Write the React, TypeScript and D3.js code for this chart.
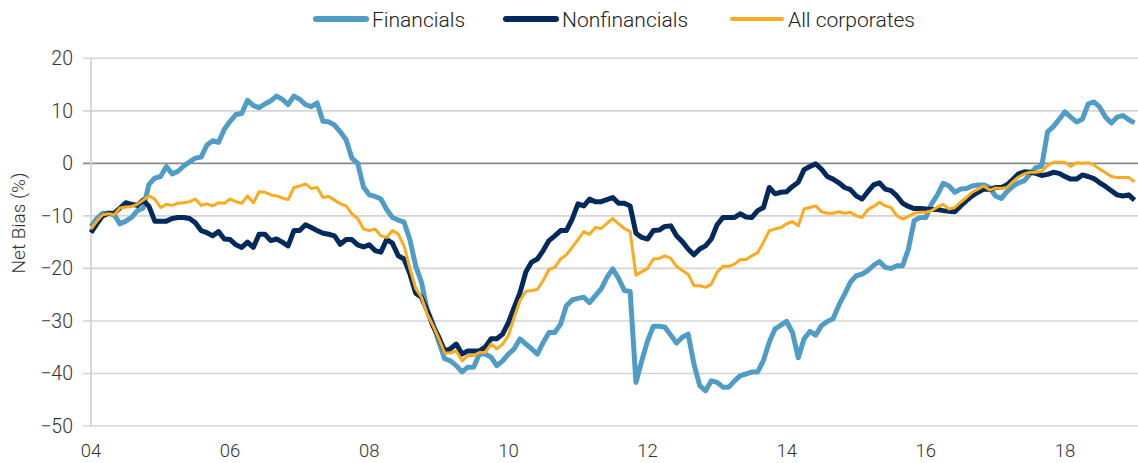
import React, { useEffect, useRef } from 'react';
import * as d3 from 'd3';

// monthly readings, Jan 2004 .. Jan 2019
const financials = [
  -12, -10.5, -9.5, -9.5, -9.8, -11.5, -11, -10.3, -9, -8.5, -4, -2.8, -2.5, -0.6, -2, -1.5, -0.5, 0.3, 1, 1.2,
  3.5, 4.3, 4, 6.5, 8, 9.3, 9.5, 12, 11, 10.6, 11.3, 11.9, 12.8, 12.2, 11.2, 12.8, 12.2, 11.2, 10.8, 11.5,
  8, 7.9, 7.3, 6, 4.5, 1, 0, -4.5, -6, -6.3, -6.8, -8.8, -10.3, -10.8, -11.2, -14.5, -19.5, -22.6, -28, -30.5,
  -34, -37.2, -37.6, -38.5, -39.7, -38.8, -38.8, -36.3, -36.3, -36.9, -38.5, -37.6, -36.3, -35.3, -33.4, -34.4, -35.3, -36.3, -34.1, -32.2,
  -32.2, -30.6, -27.1, -26, -25.7, -25.5, -26.5, -25.2, -23.9, -21.7, -20.1, -21.9, -24.2, -24.4, -41.7, -37.6, -33.8, -31, -31, -31.2,
  -32.7, -34.2, -33.1, -32.5, -38.2, -42.3, -43.3, -41.4, -41.7, -42.6, -42.6, -41.4, -40.4, -40.1, -39.7, -39.7, -37.5, -34, -31.5, -30.8,
  -30.1, -32.2, -37, -33.4, -32, -32.7, -30.9, -30.1, -29.6, -27, -24.9, -22.6, -21.4, -21.1, -20.4, -19.4, -18.7, -19.8, -20, -19.5,
  -19.5, -16.3, -10.9, -10.3, -10.3, -7.7, -6, -3.8, -4.3, -5.5, -4.9, -4.8, -4.3, -4.1, -4.1, -4.6, -6.2, -6.7, -5.4, -4.4,
  -3.7, -3.3, -2, -0.8, -0.5, 6, 7, 8.4, 9.8, 8.8, 7.9, 8.4, 11.3, 11.7, 10.7, 8.8, 7.7, 8.8, 9.1, 8.3,
  7.7,
];

const nonfinancials = [
  -13.2, -11.5, -10, -9.5, -9.5, -8.5, -7.5, -7.8, -8, -7, -8.2, -11, -11, -11, -10.5, -10.3, -10.3, -10.5, -11.3, -12.8,
  -13.2, -13.8, -13, -14.4, -14.5, -15.5, -16, -15, -16, -13.5, -13.5, -14.7, -14.4, -15, -15.7, -12.8, -12.8, -11.7, -12.2, -12.8,
  -13.3, -13.5, -13.8, -15.4, -14.5, -14.5, -15.5, -15.9, -15.5, -16.6, -16.9, -14.5, -15.2, -17.6, -18.2, -21, -24.7, -25.5, -28, -31,
  -33.1, -35.7, -35.3, -34.4, -36.3, -35.7, -35.7, -35.7, -35, -33.4, -33.4, -32.5, -30.3, -27.4, -24.6, -20.7, -18.8, -18.2, -16.6, -14.7,
  -13.8, -12.8, -12.8, -10.6, -7.7, -8.1, -6.8, -7.3, -7.3, -6.9, -6.5, -7.6, -7.6, -8.1, -13.3, -14.1, -14.4, -12.8, -12.7, -12,
  -11.9, -13.8, -14.9, -16.3, -17.4, -16.3, -15.7, -14.4, -11.7, -10.3, -10.3, -10.3, -9.6, -10.2, -10.3, -9, -8.4, -4.6, -5.8, -5.5,
  -5.4, -4.4, -3.6, -1.2, -0.6, -0.1, -1.1, -2.5, -3, -3.7, -4.6, -5, -6.2, -6.8, -5.4, -4.1, -3.7, -4.9, -5.2, -6.2,
  -7.6, -8.2, -8.6, -8.6, -8.7, -8.8, -8.8, -9, -9.1, -9.2, -8.1, -7.1, -6.2, -5.5, -4.9, -5, -4.6, -4.6, -4.1, -3.1,
  -2, -1.6, -1.7, -1.9, -2.3, -2.1, -1.7, -1.9, -2.5, -3, -3, -2.2, -2.5, -2.9, -3.7, -4.4, -5.2, -6, -6.2, -6,
  -7,
];

const allCorporates = [
  -12.5, -11, -9.8, -9.6, -9.8, -8.5, -8.3, -8.2, -7.8, -7, -6.2, -6.8, -8.4, -7.8, -8, -7.6, -7.5, -7.3, -6.8, -8,
  -7.7, -8.1, -7.5, -7.6, -6.8, -7.3, -7.6, -6.2, -7.5, -5.4, -5.5, -6, -6.2, -6.6, -6.9, -4.6, -4.3, -3.9, -4.8, -4.6,
  -6.5, -6.3, -7, -7.7, -8.1, -9.6, -10.5, -12.5, -12.8, -12.5, -13.8, -14.1, -12.8, -13.5, -15.7, -20, -23.8, -25.5, -28.7, -30.9,
  -33.4, -36.1, -36.1, -35.7, -37.6, -36.6, -36.6, -36, -36, -34.4, -35.3, -34.4, -32.8, -29.3, -26.1, -24.4, -24.2, -24, -22.3, -20.2,
  -19.8, -18.2, -17.4, -16, -14.5, -13, -13.5, -12.2, -12.4, -11.4, -10.5, -11.5, -12.4, -13, -21.3, -20.6, -20, -18.2, -18.1, -17.6,
  -18.1, -19.6, -20.4, -21.1, -23.3, -23.3, -23.6, -23, -20.7, -19.6, -19.6, -19.2, -18.3, -18.3, -17.6, -17, -15, -12.8, -12.5, -12.2,
  -11.5, -11.1, -11.9, -8.7, -8.4, -8.1, -9.2, -9.5, -9.5, -9.2, -9.5, -9.3, -10, -10.3, -8.8, -8.2, -7.4, -8.1, -8.4, -10,
  -10.6, -10.1, -9.5, -9.3, -9.3, -9, -8.3, -7.8, -8.7, -8.4, -7.4, -6.5, -5.5, -4.9, -4.3, -5.1, -4.7, -4.8, -4.6, -3.5,
  -2.6, -2, -1.7, -1.7, -1.5, -0.4, 0.2, 0.2, 0.2, -0.6, 0.1, 0, 0.1, -0.3, -1.1, -1.8, -2.5, -2.7, -2.7, -2.7,
  -3.5,
];

const yearLabels = ['04', '06', '08', '10', '12', '14', '16', '18'];
const yTicks = [20, 10, 0, -10, -20, -30, -40, -50];

const seriesNames = ['Financials', 'Nonfinancials', 'All corporates'];
const seriesColors = ['#4f9cc6', '#002a5c', '#fcaa1e'];
const seriesWidths = [5, 5, 3];

const App = () => {
  const ref = useRef<SVGSVGElement | null>(null);

  useEffect(() => {
    const width = 1138;
    const height = 463;
    const left = 91;
    const right = 1138;
    const top = 58.3;
    const bottom = 426;
    const font = 'Roboto, "Open Sans", sans-serif';

    const svg = d3.select(ref.current);
    svg.selectAll('*').remove();
    svg.attr('width', width).attr('height', height);

    const x = d3.scaleLinear().domain([0, 180.6]).range([left, right]);
    const y = d3.scaleLinear().domain([-50, 20]).range([bottom, top]);

    // grid
    svg.append('g')
      .selectAll('line')
      .data(yTicks)
      .enter()
      .append('line')
      .attr('x1', left - 8)
      .attr('x2', right)
      .attr('y1', d => y(d))
      .attr('y2', d => y(d))
      .attr('stroke', d => (d === 0 ? '#8a8a8a' : '#d4d4d4'))
      .attr('stroke-width', 1.6);

    // y axis line
    svg.append('line')
      .attr('x1', left)
      .attr('x2', left)
      .attr('y1', top)
      .attr('y2', bottom)
      .attr('stroke', '#cfcfcf')
      .attr('stroke-width', 1.6);

    svg.append('g')
      .selectAll('text')
      .data(yTicks)
      .enter()
      .append('text')
      .attr('x', 73)
      .attr('y', d => y(d))
      .attr('dy', '0.36em')
      .attr('text-anchor', 'end')
      .attr('font-family', font)
      .attr('font-weight', 300)
      .attr('font-size', 19.5)
      .attr('fill', '#333')
      .text(d => (d < 0 ? '\u2212' + Math.abs(d) : String(d)));

    svg.append('g')
      .selectAll('text')
      .data(yearLabels)
      .enter()
      .append('text')
      .attr('x', (d, i) => x(i * 24))
      .attr('y', 457)
      .attr('text-anchor', 'middle')
      .attr('font-family', font)
      .attr('font-weight', 300)
      .attr('font-size', 18.5)
      .attr('fill', '#333')
      .text(d => d);

    svg.append('text')
      .attr('transform', `translate(25,${223}) rotate(-90)`)
      .attr('text-anchor', 'middle')
      .attr('font-family', font)
      .attr('font-weight', 300)
      .attr('font-size', 19)
      .attr('fill', '#333')
      .text('Net Bias (%)');

    // lines
    const line = d3.line<number>()
      .x((d, i) => x(i))
      .y(d => y(d));

    [financials, nonfinancials, allCorporates].forEach((data, i) => {
      svg.append('path')
        .datum(data)
        .attr('d', line)
        .attr('fill', 'none')
        .attr('stroke', seriesColors[i])
        .attr('stroke-width', seriesWidths[i])
        .attr('stroke-linejoin', 'round');
    });

    // legend
    const legendX = [314, 504, 730];
    const legend = svg.append('g');
    seriesNames.forEach((name, i) => {
      legend.append('line')
        .attr('x1', legendX[i] + 2)
        .attr('x2', legendX[i] + 52)
        .attr('y1', 19)
        .attr('y2', 19)
        .attr('stroke', seriesColors[i])
        .attr('stroke-width', seriesWidths[i] + 1)
        .attr('stroke-linecap', 'round');
      legend.append('text')
        .attr('x', legendX[i] + 58)
        .attr('y', 26.5)
        .attr('font-family', font)
        .attr('font-weight', 300)
        .attr('font-size', 21)
        .attr('fill', '#222')
        .text(name);
    });
  }, []);

  return (
    <svg ref={ref} style={{ position: 'absolute', left: 0, top: 0, background: 'white' }}></svg>
  );
};

export default App;
